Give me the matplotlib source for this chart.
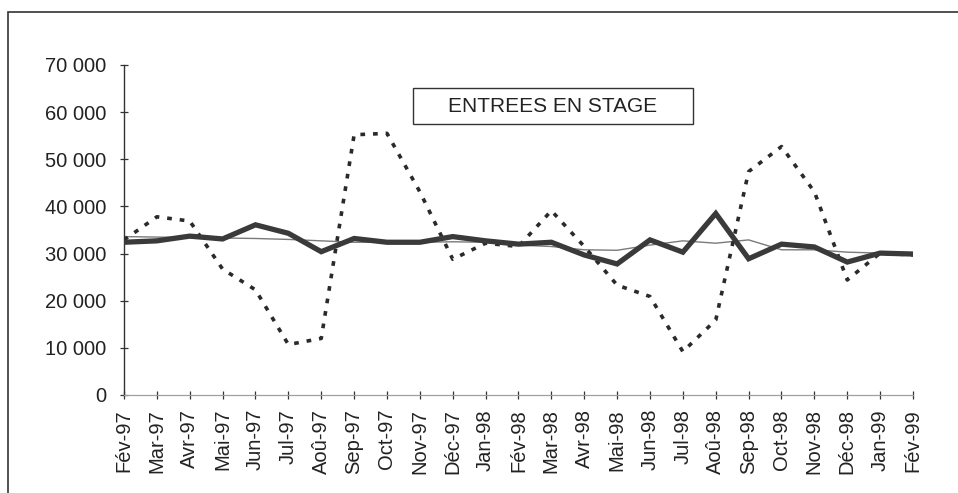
import matplotlib
matplotlib.use("Agg")
import matplotlib.pyplot as plt
from matplotlib.patches import Rectangle

plt.rcParams['font.family'] = ['Liberation Sans', 'DejaVu Sans']

# Monthly labels, Feb 1997 to Feb 1999
months = ['Fév-97', 'Mar-97', 'Avr-97', 'Mai-97', 'Jun-97', 'Jul-97', 'Aoû-97',
          'Sep-97', 'Oct-97', 'Nov-97', 'Déc-97', 'Jan-98', 'Fév-98', 'Mar-98',
          'Avr-98', 'Mai-98', 'Jun-98', 'Jul-98', 'Aoû-98', 'Sep-98', 'Oct-98',
          'Nov-98', 'Déc-98', 'Jan-99', 'Fév-99']

# raw entries (dashed)
brut = [32900, 37800, 36900, 26700, 22300, 10700, 12000, 55200, 55500, 43100,
        28800, 32200, 31500, 39100, 31500, 23300, 20900, 9200, 15900, 47400,
        52700, 43100, 24400, 30100, 29700]

# seasonally adjusted (thick)
cvs = [32400, 32700, 33700, 33100, 36100, 34300, 30400, 33200, 32400, 32400,
       33600, 32700, 32000, 32400, 29700, 27800, 32900, 30300, 38500, 28900,
       32000, 31400, 28200, 30100, 29900]

# trend (thin)
tendance = [33600, 33500, 33400, 33300, 33200, 33000, 32700, 32400, 32400, 32400,
            32500, 32400, 31800, 31500, 30800, 30700, 31800, 32700, 32200, 32900,
            30800, 30800, 30300, 30100, 30100]

yticks = [0, 10000, 20000, 30000, 40000, 50000, 60000, 70000]
ytick_labels = ['0', '10 000', '20 000', '30 000', '40 000', '50 000', '60 000', '70 000']

W, H = 958, 493
fig = plt.figure(figsize=(W / 100, H / 100), dpi=100)
ax = fig.add_axes([124 / W, 1 - 395 / H, (913 - 124) / W, (395 - 65) / H])

x = list(range(len(months)))
ax.plot(x, tendance, color='#7a7a7a', lw=1.0, zorder=2)
ax.plot(x, brut, color='#2a2a2a', lw=2.6, dashes=(1.3, 2.2), zorder=3)
ax.plot(x, cvs, color='#3a3a3a', lw=3.8, solid_joinstyle='miter', zorder=4)

ax.set_xlim(0, 24)
ax.set_ylim(0, 70000)
ax.set_yticks(yticks)
ax.set_yticklabels(ytick_labels)
ax.set_xticks(x)
ax.set_xticklabels(months, rotation=90)

for s in ['top', 'right']:
    ax.spines[s].set_visible(False)
ax.spines['left'].set_color('#333333')
ax.spines['left'].set_linewidth(1.0)
ax.spines['bottom'].set_color('#9aa0a8')
ax.spines['bottom'].set_linewidth(0.9)

ax.tick_params(axis='y', direction='inout', length=6, width=0.9, color='#333333',
               labelsize=14.5, labelcolor='#222222', pad=10)
ax.tick_params(axis='x', direction='inout', length=6, width=0.9, color='#333333',
               labelsize=14.5, labelcolor='#222222', pad=7)

# title box
fig.patches.append(Rectangle((413 / W, 1 - 124 / H), (693 - 413) / W, 36 / H,
                             transform=fig.transFigure, fill=False,
                             edgecolor='#333333', lw=1.0))
fig.text(553 / W, 1 - 106 / H, 'ENTREES EN STAGE', ha='center', va='center',
         fontsize=15, color='#222222')

# outer frame (cut off at right and bottom)
fig.patches.append(Rectangle((8 / W, -0.1), 1.2, 1 - 12 / H + 0.1,
                             transform=fig.transFigure, fill=False,
                             edgecolor='#333333', lw=1.2))

fig.savefig('out.png', dpi=100)
